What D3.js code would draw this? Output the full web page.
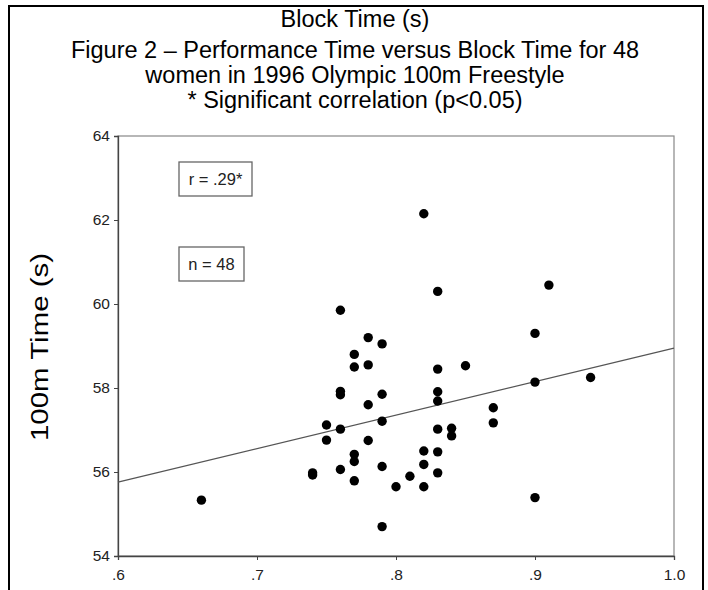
<!DOCTYPE html>
<html><head><meta charset="utf-8">
<script src="https://cdn.jsdelivr.net/npm/d3@7"></script>
<style>body{margin:0;background:#fff}svg{display:block}</style>
</head><body>
<script>
// ---- data ----
const titleLines = ["Block Time (s)", "Figure 2 \u2013 Performance Time versus Block Time for 48", "women in 1996 Olympic 100m Freestyle", "* Significant correlation (p<0.05)"];
const yLabel = "100m Time (s)";
const blockTime = [0.66,0.74,0.74,0.75,0.75,0.76,0.76,0.76,0.76,0.76,0.77,0.77,0.77,0.77,0.77,0.78,0.78,0.78,0.78,0.79,0.79,0.79,0.79,0.79,0.80,0.81,0.82,0.82,0.82,0.82,0.83,0.83,0.83,0.83,0.83,0.83,0.83,0.84,0.84,0.85,0.87,0.87,0.90,0.90,0.90,0.91,0.94];
const perfTime  = [55.33,55.98,55.93,57.12,56.76,59.85,57.92,57.84,57.02,56.06,58.80,58.50,56.42,56.25,55.79,59.20,58.55,57.60,56.75,59.05,57.85,57.21,56.13,54.70,55.65,55.90,62.15,56.50,56.18,55.65,60.30,58.45,57.91,57.69,57.02,56.48,55.98,57.04,56.86,58.53,57.53,57.17,59.30,58.14,55.39,60.45,58.25];
const fitX = [0.6, 1.0];
const fitY = [55.76, 58.95];
const xTicks = [0.6, 0.7, 0.8, 0.9, 1.0];
const xTickLabels = [".6", ".7", ".8", ".9", "1.0"];
const yTicks = [54, 56, 58, 60, 62, 64];
const statLabels = ["r = .29*", "n = 48"];

const W = 708, H = 590;
const svg = d3.select("body").append("svg").attr("width", W).attr("height", H);
const font = "'Liberation Sans', Arial, sans-serif";

// outer frame
svg.append("path").attr("d", `M9,${H} V6 H703 V${H}`).attr("fill","none").attr("stroke","#000").attr("stroke-width",2);

// title
const titleY = [27, 58, 83, 108];
svg.selectAll("text.title").data(titleLines).join("text")
  .attr("class","title").attr("x", 355).attr("y", (d,i)=> titleY[i])
  .attr("text-anchor","middle").attr("font-family",font).attr("font-size",23.5).attr("fill","#000").text(d=>d);

const m = {l:118, t:136, r:674, b:556};
const x = d3.scaleLinear().domain([0.6,1.0]).range([m.l, m.r]);
const y = d3.scaleLinear().domain([54,64]).range([m.b, m.t]);

// plot frame
svg.append("rect").attr("x",m.l).attr("y",m.t).attr("width",m.r-m.l).attr("height",m.b-m.t)
  .attr("fill","none").attr("stroke","#888").attr("stroke-width",1.2);

// axes
const yAxis = svg.append("g").attr("transform",`translate(${m.l},0)`)
  .call(d3.axisLeft(y).tickValues(yTicks).tickFormat(d3.format("d")).tickSize(4).tickPadding(4));
const xAxis = svg.append("g").attr("transform",`translate(0,${m.b})`)
  .call(d3.axisBottom(x).tickValues(xTicks).tickFormat((d,i)=>xTickLabels[i]).tickSize(4).tickPadding(9));
[yAxis,xAxis].forEach(g=>{
  g.select(".domain").attr("stroke","#444").attr("stroke-width",1.3);
  g.selectAll(".tick line").attr("stroke","#444");
  g.selectAll(".tick text").attr("font-family",font).attr("font-size",15.5).attr("fill","#222");
});

// y label
svg.append("text").attr("transform","translate(48,347) rotate(-90)")
  .attr("text-anchor","middle").attr("font-family",font).attr("font-size",23)
  .attr("textLength",188).attr("lengthAdjust","spacingAndGlyphs").attr("fill","#000").text(yLabel);

// fit line
svg.append("line").attr("x1",x(fitX[0])).attr("y1",y(fitY[0])).attr("x2",x(fitX[1])).attr("y2",y(fitY[1]))
  .attr("stroke","#555").attr("stroke-width",1.2);

// points
svg.append("g").selectAll("circle").data(blockTime).join("circle")
  .attr("cx",d=>x(d)).attr("cy",(d,i)=>y(perfTime[i])).attr("r",4.7).attr("fill","#000");

// stat boxes
const boxes = [{x:179,y:162,w:73,h:34},{x:179,y:247,w:65,h:34}];
boxes.forEach((b,i)=>{
  svg.append("rect").attr("x",b.x).attr("y",b.y).attr("width",b.w).attr("height",b.h)
    .attr("fill","#fff").attr("stroke","#666").attr("stroke-width",1.3);
  svg.append("text").attr("x",b.x+b.w/2).attr("y",b.y+b.h/2+6).attr("text-anchor","middle")
    .attr("font-family",font).attr("font-size",16.5).attr("fill","#222").text(statLabels[i]);
});
</script>
</body></html>
